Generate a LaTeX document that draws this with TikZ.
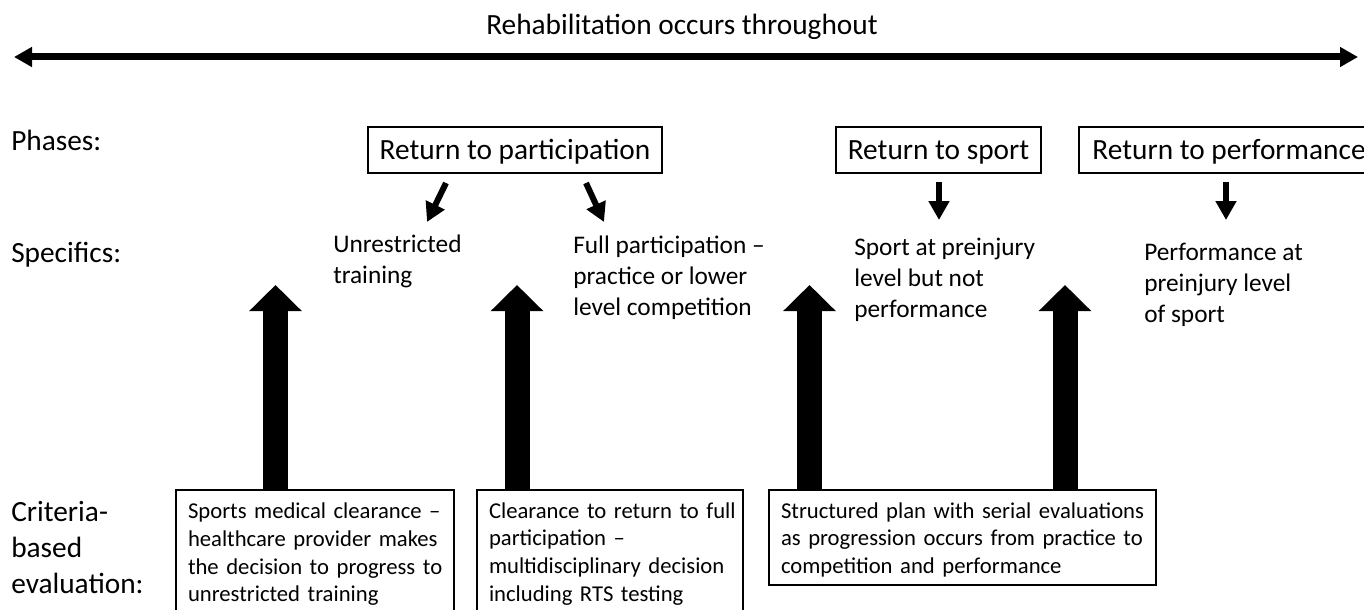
\documentclass[tikz,border=0pt]{standalone}
\usepackage{fontspec}
\setmainfont{Carlito}
\usetikzlibrary{arrows.meta}
\setlength\parindent{0pt}
\newcommand\jl[2]{\makebox[#1][s]{#2}}
\begin{document}
\begin{tikzpicture}[x=0.75pt,y=-0.75pt,
  lab/.style={inner sep=0pt, anchor=base west, align=left, font=\fontsize{22}{27}\selectfont},
  spec/.style={inner sep=0pt, anchor=base west, align=left, font=\fontsize{19}{23.25}\selectfont},
  phasebox/.style={draw, line width=1.5pt, inner sep=0pt, minimum height=34.5pt, text height=16.5pt, text depth=3pt, font=\fontsize{22}{27}\selectfont},
  critbox/.style={draw, line width=1.5pt, inner xsep=9pt, inner ysep=0pt, anchor=north west, align=left, font=\fontsize{17}{20.8}\selectfont},
  smallarrow/.style={line width=4.5pt, -{Triangle[width=15pt,length=14.25pt]}},
  bigarrow/.style={line width=18.75pt, -{Triangle[width=38.25pt,length=19.5pt]}},
  dblarrow/.style={line width=5.25pt, {Triangle[width=14.25pt,length=13.5pt]}-{Triangle[width=14.25pt,length=13.5pt]}}
]
\clip (0,0) rectangle (1364,610);
\fill[white] (0,0) rectangle (1364,610);

% title and double arrow
\node[lab, anchor=base] (title) at (682,35) {Rehabilitation occurs throughout};
\coordinate (lt) at (14,57);
\coordinate (rt) at (1358,57);
\draw[dblarrow] (lt) -- (rt);

% row labels (base = baseline of last line)
\node[lab] (phases) at (11,150) {Phases:};
\node[lab] (specifics) at (11,262) {Specifics:};
\node[lab] (criteria) at (11,593) {Criteria-\\based\\evaluation:};

% phase boxes
\node[phasebox, minimum width=220.5pt] (p1) at (515,150) {Return to participation};
\node[phasebox, minimum width=153.75pt] (p2) at (938.5,150) {Return to sport};
\node[phasebox, minimum width=225pt, anchor=west] (p3) at (1078,150) {Return to performance};

% specifics
\node[spec] (s1) at (333,283) {Unrestricted\\training};
\node[spec] (s2) at (573,315) {Full participation --\\practice or lower\\level competition};
\node[spec] (s3) at (854,317) {Sport at preinjury\\level but not\\performance};
\node[spec] (s4) at (1144,322) {Performance at\\preinjury level\\of sport};

% small arrows
\coordinate (a1s) at (446,183); \coordinate (a1e) at (427,222);
\coordinate (a2s) at (586,183); \coordinate (a2e) at (604,222);
\coordinate (a3s) at (939,182); \coordinate (a3e) at (939,220);
\coordinate (a4s) at (1226,182); \coordinate (a4e) at (1226,220);
\draw[smallarrow] (a1s) -- (a1e);
\draw[smallarrow] (a2s) -- (a2e);
\draw[smallarrow] (a3s) -- (a3e);
\draw[smallarrow] (a4s) -- (a4e);

% criteria boxes
\node[critbox, text width=190.5pt] (c1) at (175,489) {\rule{0pt}{21.5pt}\jl{187.5pt}{Sports medical clearance --}\\\jl{187.5pt}{healthcare provider makes}\\\jl{187.5pt}{the decision to progress to}\\unrestricted training\rule[-22.5pt]{0pt}{22.5pt}};
\node[critbox, text width=181.5pt] (c2) at (476,489) {\rule{0pt}{21pt}\jl{180pt}{Clearance to return to full}\\participation --\\multidisciplinary decision\\including RTS testing\rule[-22.5pt]{0pt}{22.5pt}};
\node[critbox, text width=272.25pt] (c3) at (768,489) {\rule{0pt}{21pt}\jl{270pt}{Structured plan with serial evaluations}\\\jl{270pt}{as progression occurs from practice to}\\competition and performance\rule[-9pt]{0pt}{9pt}};

% big arrows
\coordinate (t1) at (275.5,285);
\coordinate (t2) at (517,285);
\coordinate (t3) at (809.5,285);
\coordinate (t4) at (1065,285);
\draw[bigarrow] (c1.north -| t1) -- (t1);
\draw[bigarrow] (c2.north -| t2) -- (t2);
\draw[bigarrow] (c3.north -| t3) -- (t3);
\draw[bigarrow] (c3.north -| t4) -- (t4);
\end{tikzpicture}
\end{document}
